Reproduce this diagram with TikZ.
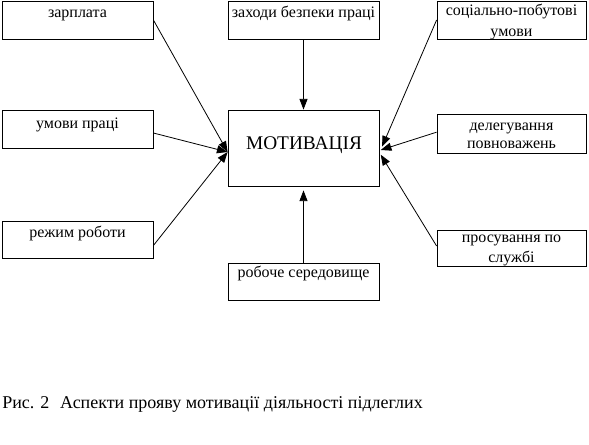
\documentclass[tikz,border=0pt]{standalone}
\usepackage{fontspec}
\setmainfont{Liberation Serif}
\usetikzlibrary{arrows.meta}
\begin{document}
\begin{tikzpicture}[x=0.75pt,y=-0.75pt,
  box/.style={draw, line width=0.6pt, inner sep=0pt, minimum width=113.25pt, minimum height=28.5pt},
  txt/.style={inner sep=0pt, anchor=base, font=\fontsize{12}{14}\selectfont},
  arr/.style={line width=0.6pt, -{Triangle[length=8pt,width=6pt]}}]
\useasboundingbox (0,0) rectangle (589,444);
% boxes
\node[box] (zarplata) at (77.5,20) {};
\node[box] (zakhody) at (303.5,20) {};
\node[box, minimum width=111.75pt] (sotsial) at (511.5,20) {};
\node[box] (umovy) at (77.5,129) {};
\node[box, minimum height=57pt] (motyv) at (303.5,148) {};
\node[box, minimum width=111.75pt, minimum height=29.25pt] (deleg) at (511.5,133.5) {};
\node[box, minimum height=27.75pt] (rezhym) at (77.5,239.5) {};
\node[box, minimum height=27.75pt] (roboche) at (303.5,281.5) {};
\node[box, minimum width=111.75pt, minimum height=27pt] (prosuv) at (511.5,248) {};
% texts
\node[txt] (t1) at (77.5,17) {зарплата};
\node[txt] (t2) at (303.5,17) {заходи безпеки праці};
\node[txt] (t3a) at (511.5,15) {соціально-побутові};
\node[txt] (t3b) at (511.5,36) {умови};
\node[txt] (t4) at (77.5,128) {умови праці};
\node[txt, font=\fontsize{14.5}{17}\selectfont] (t5) at (304,149) {МОТИВАЦІЯ};
\node[txt] (t6a) at (511.5,130) {делегування};
\node[txt] (t6b) at (511.5,148) {повноважень};
\node[txt] (t7) at (77.5,237) {режим роботи};
\node[txt] (t8) at (303.5,277) {робоче середовище};
\node[txt] (t9a) at (511.5,242) {просування по};
\node[txt] (t9b) at (511.5,262) {службі};
\node[txt, anchor=base west, font=\fontsize{13.5}{16}\selectfont] (cap) at (2,408) {Рис. 2\hspace{0.6em}Аспекти прояву мотивації діяльності підлеглих};
% connectors
\draw[arr] (zarplata.east) -- ([yshift=-3pt]motyv.west);
\draw[arr] ([yshift=-3pt]umovy.east) -- ([yshift=-3pt]motyv.west);
\draw[arr] ([yshift=-4.5pt]rezhym.east) -- ([yshift=-3pt]motyv.west);
\draw[arr] (zakhody.south) -- (motyv.north);
\draw[arr] (roboche.north) -- ([yshift=-3pt]motyv.south);
\draw[arr] (sotsial.west) -- ([xshift=2pt,yshift=1pt]motyv.east);
\draw[arr] ([yshift=1pt]deleg.west) -- ([xshift=1pt,yshift=-1.5pt]motyv.east);
\draw[arr] ([yshift=1.5pt]prosuv.west) -- ([xshift=1pt,yshift=-5pt]motyv.east);
\end{tikzpicture}
\end{document}
